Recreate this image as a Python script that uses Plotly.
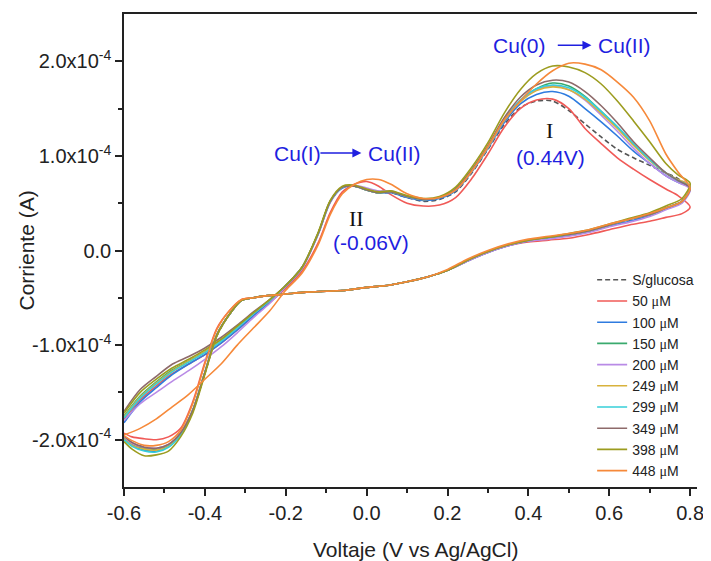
import numpy as np
import plotly.graph_objects as go

# ---------------- data (current in units of 1e-4 A) ----------------
CURRENT_UNIT = 1e-4

V_fwd = [-0.60, -0.56, -0.52, -0.48, -0.44, -0.40, -0.36, -0.32, -0.28, -0.24,
         -0.20, -0.16, -0.12, -0.09, -0.06, -0.03, 0.00, 0.03, 0.06, 0.10,
         0.14, 0.18, 0.22, 0.26, 0.30, 0.34, 0.38, 0.42, 0.46, 0.50,
         0.54, 0.58, 0.62, 0.66, 0.70, 0.74, 0.77, 0.80]

V_rev = [0.78, 0.74, 0.70, 0.65, 0.60, 0.55, 0.50, 0.45, 0.40, 0.35,
         0.30, 0.25, 0.20, 0.15, 0.10, 0.05, 0.00, -0.05, -0.10, -0.15,
         -0.20, -0.25, -0.28, -0.31, -0.34, -0.37, -0.40, -0.43, -0.46, -0.49,
         -0.52, -0.55, -0.58, -0.60]

labels = ["S/glucosa", "50", "100", "150", "200", "249", "299", "349", "398", "448"]
colors = ["#555555", "#F05A57", "#2E7BDF", "#3AAA6E", "#B98BE6", "#D8B23C",
          "#36CFD9", "#8E6A6A", "#9C9C1F", "#F6893A"]

fwd_sglucosa = [-1.76, -1.55, -1.40, -1.27, -1.17, -1.07, -0.95, -0.81, -0.66, -0.53,
                -0.37, -0.18, 0.18, 0.52, 0.67, 0.68, 0.64, 0.61, 0.61, 0.56,
                0.52, 0.54, 0.62, 0.82, 1.07, 1.33, 1.51, 1.58, 1.58, 1.48,
                1.34, 1.20, 1.07, 0.98, 0.90, 0.82, 0.76, 0.66]
rev_sglucosa = [0.52, 0.45, 0.38, 0.32, 0.27, 0.21, 0.17, 0.14, 0.11, 0.06,
                -0.01, -0.10, -0.21, -0.28, -0.33, -0.37, -0.39, -0.42, -0.43, -0.44,
                -0.46, -0.48, -0.50, -0.53, -0.68, -0.90, -1.30, -1.70, -1.94, -2.06,
                -2.10, -2.08, -2.04, -1.97]

fwd_50 = [-1.78, -1.58, -1.43, -1.30, -1.20, -1.10, -0.98, -0.84, -0.69, -0.55,
          -0.40, -0.22, 0.08, 0.40, 0.62, 0.70, 0.73, 0.68, 0.59, 0.50,
          0.47, 0.48, 0.56, 0.76, 1.02, 1.30, 1.50, 1.59, 1.60, 1.50,
          1.29, 1.13, 0.98, 0.86, 0.75, 0.65, 0.58, 0.46]
rev_50 = [0.39, 0.35, 0.31, 0.27, 0.22, 0.17, 0.13, 0.11, 0.09, 0.05,
          -0.02, -0.11, -0.21, -0.28, -0.33, -0.37, -0.39, -0.42, -0.43, -0.44,
          -0.46, -0.48, -0.50, -0.52, -0.64, -0.82, -1.18, -1.60, -1.88, -1.97,
          -2.00, -1.99, -1.97, -1.93]

fwd_100 = [-1.82, -1.60, -1.45, -1.31, -1.20, -1.10, -0.98, -0.84, -0.69, -0.55,
           -0.38, -0.19, 0.17, 0.51, 0.66, 0.68, 0.64, 0.61, 0.61, 0.56,
           0.53, 0.55, 0.63, 0.83, 1.08, 1.35, 1.55, 1.65, 1.68, 1.63,
           1.50, 1.36, 1.21, 1.05, 0.92, 0.79, 0.72, 0.66]
rev_100 = [0.51, 0.44, 0.37, 0.31, 0.26, 0.20, 0.16, 0.13, 0.10, 0.05,
           -0.02, -0.11, -0.21, -0.28, -0.33, -0.37, -0.39, -0.42, -0.43, -0.44,
           -0.46, -0.48, -0.50, -0.53, -0.68, -0.89, -1.29, -1.69, -1.94, -2.07,
           -2.12, -2.11, -2.06, -1.99]

fwd_150 = [-1.75, -1.54, -1.39, -1.26, -1.17, -1.07, -0.95, -0.81, -0.66, -0.53,
           -0.37, -0.18, 0.18, 0.52, 0.67, 0.68, 0.64, 0.61, 0.62, 0.57,
           0.54, 0.56, 0.65, 0.85, 1.10, 1.38, 1.58, 1.71, 1.77, 1.74,
           1.63, 1.47, 1.30, 1.12, 0.96, 0.82, 0.74, 0.67]
rev_150 = [0.52, 0.45, 0.38, 0.33, 0.27, 0.21, 0.17, 0.14, 0.11, 0.06,
           -0.01, -0.10, -0.21, -0.28, -0.33, -0.37, -0.39, -0.42, -0.43, -0.44,
           -0.46, -0.48, -0.50, -0.53, -0.68, -0.89, -1.29, -1.69, -1.93, -2.06,
           -2.10, -2.09, -2.05, -1.98]

fwd_200 = [-1.80, -1.62, -1.50, -1.38, -1.27, -1.15, -1.02, -0.87, -0.71, -0.56,
           -0.38, -0.19, 0.17, 0.51, 0.67, 0.69, 0.66, 0.63, 0.63, 0.57,
           0.54, 0.56, 0.64, 0.84, 1.09, 1.37, 1.58, 1.70, 1.74, 1.70,
           1.59, 1.43, 1.26, 1.08, 0.92, 0.79, 0.72, 0.65]
rev_200 = [0.50, 0.43, 0.36, 0.30, 0.25, 0.19, 0.15, 0.12, 0.10, 0.05,
           -0.02, -0.11, -0.21, -0.28, -0.33, -0.37, -0.39, -0.42, -0.43, -0.44,
           -0.46, -0.48, -0.50, -0.53, -0.68, -0.89, -1.29, -1.69, -1.93, -2.05,
           -2.09, -2.08, -2.04, -1.97]

fwd_249 = [-1.76, -1.55, -1.40, -1.27, -1.17, -1.07, -0.95, -0.81, -0.66, -0.53,
           -0.37, -0.18, 0.18, 0.52, 0.67, 0.68, 0.64, 0.61, 0.62, 0.57,
           0.54, 0.56, 0.64, 0.84, 1.09, 1.37, 1.57, 1.69, 1.73, 1.70,
           1.60, 1.45, 1.29, 1.11, 0.95, 0.82, 0.75, 0.68]
rev_249 = [0.52, 0.45, 0.38, 0.33, 0.27, 0.21, 0.17, 0.14, 0.11, 0.06,
           -0.01, -0.10, -0.21, -0.28, -0.33, -0.37, -0.39, -0.42, -0.43, -0.44,
           -0.46, -0.48, -0.50, -0.53, -0.68, -0.89, -1.29, -1.69, -1.94, -2.07,
           -2.11, -2.10, -2.06, -1.99]

fwd_299 = [-1.77, -1.56, -1.41, -1.28, -1.18, -1.08, -0.96, -0.82, -0.67, -0.53,
           -0.37, -0.18, 0.18, 0.52, 0.67, 0.68, 0.64, 0.61, 0.62, 0.57,
           0.54, 0.56, 0.65, 0.85, 1.10, 1.38, 1.59, 1.71, 1.75, 1.72,
           1.62, 1.47, 1.31, 1.13, 0.96, 0.82, 0.74, 0.67]
rev_299 = [0.52, 0.45, 0.38, 0.33, 0.27, 0.21, 0.17, 0.14, 0.11, 0.06,
           -0.01, -0.10, -0.21, -0.28, -0.33, -0.37, -0.39, -0.42, -0.43, -0.44,
           -0.46, -0.48, -0.50, -0.53, -0.68, -0.89, -1.29, -1.69, -1.95, -2.08,
           -2.13, -2.12, -2.07, -2.00]

fwd_349 = [-1.70, -1.47, -1.33, -1.20, -1.12, -1.03, -0.92, -0.79, -0.65, -0.52,
           -0.37, -0.18, 0.18, 0.52, 0.67, 0.68, 0.64, 0.61, 0.62, 0.57,
           0.54, 0.56, 0.65, 0.85, 1.11, 1.40, 1.62, 1.75, 1.80, 1.78,
           1.68, 1.53, 1.35, 1.15, 0.98, 0.82, 0.74, 0.66]
rev_349 = [0.52, 0.45, 0.38, 0.33, 0.27, 0.21, 0.17, 0.14, 0.11, 0.06,
           -0.01, -0.10, -0.21, -0.28, -0.33, -0.37, -0.39, -0.42, -0.43, -0.44,
           -0.46, -0.48, -0.50, -0.53, -0.68, -0.89, -1.29, -1.69, -1.93, -2.05,
           -2.09, -2.08, -2.03, -1.96]

fwd_398 = [-1.72, -1.50, -1.36, -1.24, -1.15, -1.05, -0.94, -0.80, -0.66, -0.52,
           -0.37, -0.18, 0.19, 0.53, 0.68, 0.69, 0.65, 0.62, 0.63, 0.58,
           0.55, 0.57, 0.67, 0.88, 1.14, 1.45, 1.70, 1.87, 1.95, 1.94,
           1.88, 1.76, 1.58, 1.37, 1.15, 0.92, 0.80, 0.71]
rev_398 = [0.55, 0.47, 0.40, 0.34, 0.28, 0.22, 0.18, 0.14, 0.11, 0.06,
           -0.01, -0.10, -0.21, -0.28, -0.33, -0.37, -0.39, -0.42, -0.43, -0.44,
           -0.46, -0.48, -0.50, -0.53, -0.68, -0.90, -1.31, -1.72, -1.97, -2.12,
           -2.16, -2.17, -2.10, -2.02]

fwd_448 = [-1.95, -1.88, -1.78, -1.65, -1.52, -1.36, -1.20, -1.00, -0.82, -0.64,
           -0.42, -0.24, 0.06, 0.38, 0.60, 0.70, 0.75, 0.75, 0.70, 0.60,
           0.55, 0.56, 0.64, 0.84, 1.10, 1.38, 1.58, 1.76, 1.90, 1.98,
           1.97, 1.91, 1.78, 1.62, 1.37, 1.02, 0.83, 0.66]
rev_448 = [0.52, 0.45, 0.39, 0.33, 0.28, 0.22, 0.18, 0.15, 0.12, 0.07,
           0.00, -0.09, -0.20, -0.28, -0.33, -0.37, -0.39, -0.42, -0.43, -0.44,
           -0.46, -0.48, -0.50, -0.52, -0.64, -0.83, -1.20, -1.62, -1.90, -2.02,
           -2.06, -2.06, -2.01, -1.96]

forward = [fwd_sglucosa, fwd_50, fwd_100, fwd_150, fwd_200, fwd_249, fwd_299, fwd_349, fwd_398, fwd_448]
reverse = [rev_sglucosa, rev_50, rev_100, rev_150, rev_200, rev_249, rev_299, rev_349, rev_398, rev_448]

x_tickvals = [-0.6, -0.4, -0.2, 0.0, 0.2, 0.4, 0.6, 0.8]
x_ticktext = ["-0.6", "-0.4", "-0.2", "0.0", "0.2", "0.4", "0.6", "0.8"]
x_minor = [-0.5, -0.3, -0.1, 0.1, 0.3, 0.5, 0.7]
y_tickvals = [-2e-4, -1e-4, 0.0, 1e-4, 2e-4]
y_ticktext = ["-2.0x10<sup>-4</sup>", "-1.0x10<sup>-4</sup>", "0.0",
              "1.0x10<sup>-4</sup>", "2.0x10<sup>-4</sup>"]
y_minor = [-1.5e-4, -0.5e-4, 0.5e-4, 1.5e-4]

# ---------------- figure ----------------
FONT = "Arial, 'Liberation Sans', sans-serif"
SERIF = "'Liberation Serif', 'Times New Roman', serif"
BLUE = "#1F1FE0"
INK = "#222222"
MU = "<span style=\"font-family:'Liberation Serif',serif\">μ</span>"

# the page body adds an 8 px offset; size the figure so the plot sits where the reference has it
PAGE_OFFSET = 8

fig = go.Figure()
for lab, col, f, r in zip(labels, colors, forward, reverse):
    x = list(V_fwd) + list(V_rev)
    y = np.array(list(f) + list(r)) * CURRENT_UNIT
    name = lab if lab == "S/glucosa" else f"{lab} {MU}M"
    dash = "5px,3px" if lab == "S/glucosa" else "solid"
    fig.add_trace(go.Scatter(
        x=x, y=y, mode="lines", name=name,
        line=dict(color=col, width=1.6, dash=dash, shape="spline", smoothing=0.8),
    ))

ann = []
def txt(x, y, s, color=BLUE, size=21, family=FONT):
    ann.append(dict(x=x, y=y, xref="x", yref="y", text=s, showarrow=False,
                    font=dict(color=color, size=size, family=family)))

def arrow(x0, x1, y):
    ann.append(dict(x=x1, y=y, ax=x0, ay=y, xref="x", yref="y", axref="x", ayref="y",
                    text="", showarrow=True, arrowhead=2, arrowsize=1.2,
                    arrowwidth=1.5, arrowcolor=BLUE))

txt(-0.172, 1.03e-4, "Cu(I)")
arrow(-0.118, -0.013, 1.03e-4)
txt(0.068, 1.03e-4, "Cu(II)")
txt(0.379, 2.17e-4, "Cu(0)")
arrow(0.469, 0.556, 2.17e-4)
txt(0.637, 2.17e-4, "Cu(II)")
txt(0.451, 1.27e-4, "I", color="#111111", size=22, family=SERIF)
txt(0.454, 0.98e-4, "(0.44V)")
txt(-0.026, 0.34e-4, "II", color="#111111", size=22, family=SERIF)
txt(0.012, 0.085e-4, "(-0.06V)")

# axis titles
ann.append(dict(x=-0.171, y=0.5, xref="paper", yref="paper", text="Corriente (A)",
                textangle=-90, showarrow=False, xanchor="center", yanchor="middle",
                font=dict(size=21, family=FONT, color=INK)))
ann.append(dict(x=0.508, y=-0.133, xref="paper", yref="paper", text="Voltaje (V vs Ag/AgCl)",
                showarrow=False, xanchor="center", yanchor="middle",
                font=dict(size=21, family=FONT, color=INK)))

axis_common = dict(showline=True, linecolor=INK, linewidth=1.5,
                   ticks="outside", ticklen=7, tickwidth=1.5, tickcolor=INK,
                   showgrid=False, zeroline=False, automargin=False,
                   tickfont=dict(size=20, color=INK, family=FONT))

fig.update_layout(
    width=711 - PAGE_OFFSET, height=561 - PAGE_OFFSET,
    margin=dict(l=124 - PAGE_OFFSET, r=14, t=14 - PAGE_OFFSET, b=74),
    paper_bgcolor="white", plot_bgcolor="white",
    font=dict(family=FONT, color=INK),
    annotations=ann,
    showlegend=True,
    legend=dict(x=0.817, y=0.471, xanchor="left", yanchor="top",
                bgcolor="rgba(0,0,0,0)", font=dict(size=14, family=FONT, color=INK),
                tracegroupgap=0),
    xaxis=dict(range=[-0.6, 0.817], tickmode="array", tickvals=x_tickvals, ticktext=x_ticktext,
               mirror=True,
               minor=dict(tickmode="array", tickvals=x_minor,
                          ticks="outside", ticklen=4, tickwidth=1.5, tickcolor=INK),
               **axis_common),
    yaxis=dict(range=[-2.5e-4, 2.5e-4], tickmode="array", tickvals=y_tickvals, ticktext=y_ticktext,
               minor=dict(tickmode="array", tickvals=y_minor,
                          ticks="outside", ticklen=4, tickwidth=1.5, tickcolor=INK),
               **axis_common),
)

fig.write_html("out.html")
